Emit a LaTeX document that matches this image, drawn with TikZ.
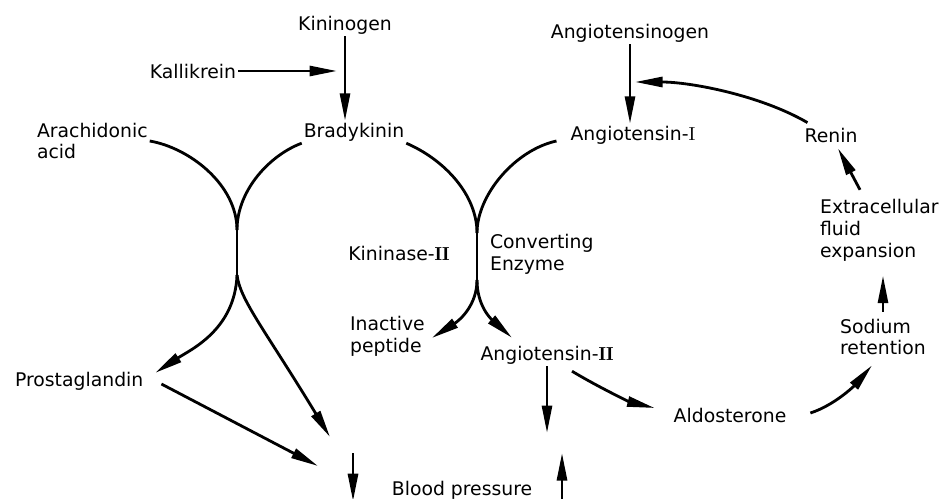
\documentclass[tikz,border=0pt]{standalone}
\usepackage{amsmath}
\usepackage{fontspec}
\setsansfont{DejaVu Sans}
\usetikzlibrary{arrows.meta}

\begin{document}
\begin{tikzpicture}[x=0.2mm,y=-0.2mm,
  every node/.style={font=\sffamily\fontsize{10.7}{12.5}\selectfont,inner sep=1pt},
  flow/.style={line width=1.6pt,-{Triangle[length=5.5mm,width=2mm]}},
  merge/.style={line width=1.6pt}]
\useasboundingbox (0,0) rectangle (944,499);
% % Kinin side
 \node (kininogen) at (345,25) {Kininogen};
 \node (kallikrein) at (193,71) {Kallikrein};
 \node (bradykinin) at (354,132) {Bradykinin};
 \node[align=left,anchor=west] (arachidonic) at (35,141) {Arachidonic\\acid};
 \node[anchor=west] (prostaglandin) at (13,381) {Prostaglandin};
 \node (kininase) at (399,253) {Kininase-$\mathbf{II}$};
 \node[align=left,anchor=west] (inactive) at (348,336) {Inactive\\peptide};
 \node (bp) at (462,490) {Blood pressure};
% % Angiotensin side
 \node (angiotensinogen) at (630,33) {Angiotensinogen};
 \node (angI) at (633,135) {Angiotensin-$\mathrm{I}$};
 \node (renin) at (831,135) {Renin};
 \node[align=left,anchor=west] (converting) at (488,254) {Converting\\Enzyme};
 \node (angII) at (547,355) {Angiotensin-$\mathbf{II}$};
 \node (aldosterone) at (730,415) {Aldosterone};
 \node[align=left,anchor=west] (sodium) at (838,337) {Sodium\\retention};
 \node[align=left,anchor=west] (ecf) at (818,230) {Extracellular\\fluid\\expansion};
% % meeting points of the curves
 \coordinate (kjoin) at (237,230);
 \coordinate (ksplit) at (237,275);
 \coordinate (ajoin) at (477,233);
 \coordinate (asplit) at (477,280);
 \coordinate (kalin) at (337,71);
 \coordinate (reninin) at (635,82);
 \coordinate (bkin) at (330,437);
 \coordinate (pgin) at (318,466);
 \coordinate (a2in) at (547,433);
 \coordinate (bpdown) at (353,453);
 \coordinate (bpup) at (562,499);
% % arrows
 \draw[flow] (kininogen.south) -- (kininogen.south |- bradykinin.north);
 \draw[flow] (kallikrein.east) -- (kalin);
 \draw[merge] (arachidonic.east) .. controls (190,148) and (237,185) .. (kjoin);
 \draw[merge] (bradykinin.south west) .. controls (270,155) and (237,190) .. (kjoin);
 \draw[merge] (kjoin) -- (ksplit);
 \draw[flow] (ksplit) .. controls (235,330) and (190,350) .. ([shift={(10,3)}]prostaglandin.north east);
 \draw[flow] (ksplit) .. controls (240,300) and (265,330) .. (bkin);
 \draw[flow] ([shift={(16,3)}]prostaglandin.east) -- (pgin);
 \draw[merge] (bradykinin.south east) .. controls (445,160) and (477,195) .. (ajoin);
 \draw[merge] ([shift={(-12,6)}]angI.west) .. controls (515,150) and (477,195) .. (ajoin);
 \draw[merge] (ajoin) -- (asplit);
 \draw[flow] (asplit) .. controls (477,305) and (460,320) .. ([shift={(5,2)}]inactive.east);
 \draw[flow] (asplit) .. controls (477,305) and (490,318) .. ([shift={(-35,-6)}]angII.north);
 \draw[flow] (angiotensinogen.south) -- (angiotensinogen.south |- angI.north);
 \draw[flow] ([shift={(5,-3)}]renin.north west) .. controls (760,95) and (690,82) .. (reninin);
 \draw[flow] ([shift={(42,-7)}]ecf.north west) -- ([shift={(7,4)}]renin.south);
 \draw[flow,shorten <=1mm,shorten >=2.5mm] (sodium.north) -- (sodium.north |- ecf.south);
 \draw[flow] ([shift={(22,-2)}]aldosterone.east) .. controls (835,405) and (855,385) .. ([shift={(-11,8)}]sodium.south);
 \draw[flow] ([shift={(25,5)}]angII.south) .. controls (600,388) and (630,402) .. ([shift={(-17,-7)}]aldosterone.west);
 \draw[flow] (angII.south) -- (a2in);
 \draw[flow] (bpdown) -- (bpdown |- bp.south);
 \draw[flow] (bpup) -- (bpup |- bpdown);
\end{tikzpicture}
\end{document}
